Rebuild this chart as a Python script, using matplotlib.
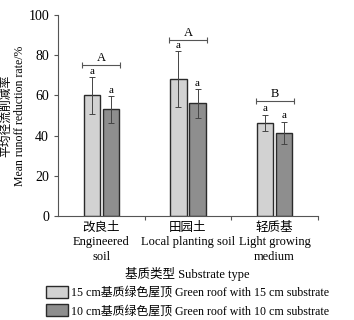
import numpy as np
import matplotlib.pyplot as plt

plt.rcParams['font.family'] = ['Liberation Serif', 'Noto Sans CJK SC']

groups = ['改良土\nEngineered\nsoil', '田园土\nLocal planting soil', '轻质基\nLight growing\nmedium']
roof15 = [60, 68, 46.5]
roof15_err = [9, 14, 4]
roof10 = [53, 56, 41.5]
roof10_err = [6.5, 7, 5.5]
group_letters = ['A', 'A', 'B']
bracket_y = [75, 87.5, 57]

fig = plt.figure(figsize=(3.54, 3.2), dpi=100)
ax = fig.add_axes([0.164, 0.325, 0.734, 0.628])

x = np.arange(len(groups))
w = 0.19
off = 0.11
b1 = ax.bar(x - off, roof15, w, color='#d2d2d2', edgecolor='#2a2a2a', linewidth=1.0,
            label='15 cm基质绿色屋顶 Green roof with 15 cm substrate')
b2 = ax.bar(x + off, roof10, w, color='#8e8e8e', edgecolor='#2a2a2a', linewidth=1.0,
            label='10 cm基质绿色屋顶 Green roof with 10 cm substrate')
ax.errorbar(x - off, roof15, yerr=roof15_err, fmt='none', ecolor='#444444', elinewidth=0.7, capsize=2.5, capthick=0.7)
ax.errorbar(x + off, roof10, yerr=roof10_err, fmt='none', ecolor='#444444', elinewidth=0.7, capsize=2.5, capthick=0.7)

for i in range(len(groups)):
    ax.text(x[i] - off, roof15[i] + roof15_err[i] + 0.8, 'a', ha='center', va='bottom', fontsize=8)
    ax.text(x[i] + off, roof10[i] + roof10_err[i] + 0.8, 'a', ha='center', va='bottom', fontsize=8)
    ax.errorbar([x[i]], [bracket_y[i]], xerr=[[0.22], [0.22]], fmt='none', ecolor='#555555',
                elinewidth=0.8, capsize=2.5, capthick=0.8)
    ax.text(x[i], bracket_y[i] + 0.8, group_letters[i], ha='center', va='bottom', fontsize=9)

ax.set_xlim(-0.5, 2.5)
ax.set_ylim(0, 100)
ax.set_yticks([0, 20, 40, 60, 80, 100])
ax.set_xticks([0.5, 1.5, 2.5])
ax.set_xticklabels([])
ax.set_xticks(x, minor=True)
ax.set_xticklabels(groups, minor=True, fontsize=9, linespacing=1.3)
ax.tick_params(axis='x', which='minor', length=0, pad=4)
ax.tick_params(axis='x', which='major', length=3, color='#555555')
ax.tick_params(axis='y', labelsize=10, length=3, color='#555555')
for s in ['top', 'right']:
    ax.spines[s].set_visible(False)
for s in ['left', 'bottom']:
    ax.spines[s].set_color('#555555')
    ax.spines[s].set_linewidth(0.8)

ax.set_ylabel('平均径流削减率\nMean runoff reduction rate/%', fontsize=8.5, linespacing=1.15, labelpad=2)
fig.text(0.53, 0.145, '基质类型 Substrate type', ha='center', va='center', fontsize=9)
fig.legend(handles=[b1, b2], loc='lower left', bbox_to_anchor=(0.1, -0.025), frameon=False,
           fontsize=8.6, handlelength=1.8, handleheight=1.1, handletextpad=0.3, labelspacing=0.45)

fig.savefig('out.png', dpi=100)
